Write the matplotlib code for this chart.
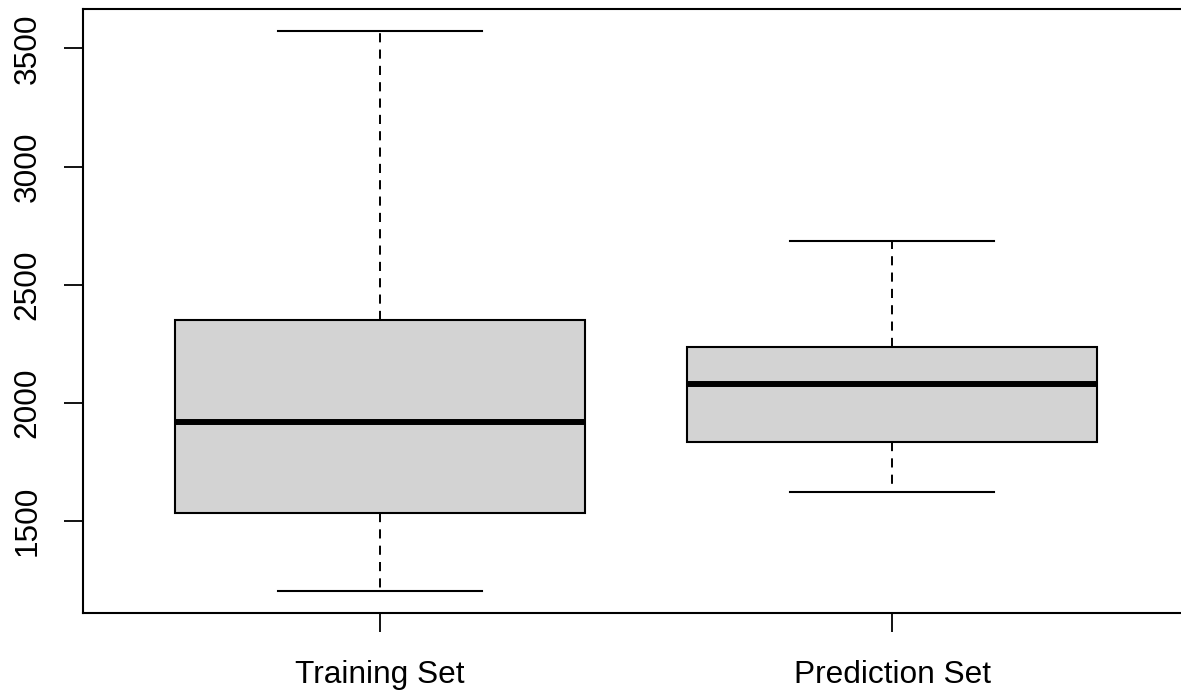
import matplotlib.pyplot as plt

plt.rcParams['font.family'] = ['Liberation Sans', 'DejaVu Sans']

# Five-number summaries for each set
labels = ['Training Set', 'Prediction Set']
whisker_low = [1205, 1624]
q1 = [1535, 1835]
median = [1920, 2080]
q3 = [2351, 2237]
whisker_high = [3572, 2685]
y_ticks = [1500, 2000, 2500, 3000, 3500]


def graficar_cajas():
    fig = plt.figure(figsize=(11.81, 6.96), dpi=100)
    ax = fig.add_axes([83 / 1181, 83 / 696, 1106 / 1181, 604 / 696])

    stats = []
    for i in range(len(labels)):
        stats.append({'label': labels[i], 'whislo': whisker_low[i], 'q1': q1[i],
                      'med': median[i], 'q3': q3[i], 'whishi': whisker_high[i],
                      'fliers': []})

    ax.bxp(stats, positions=[1, 2], widths=0.8, patch_artist=True, showfliers=False,
           boxprops=dict(facecolor='#d3d3d3', edgecolor='black', linewidth=1.5),
           medianprops=dict(color='black', linewidth=4.3, solid_capstyle='butt'),
           whiskerprops=dict(color='black', linewidth=1.4, linestyle=(0, (4.7, 3.7))),
           capprops=dict(color='black', linewidth=1.5), capwidths=0.4)

    ax.set_xlim(0.42, 2.58)
    ax.set_ylim(1110, 3667)
    ax.set_yticks(y_ticks)
    ax.set_yticklabels([str(v) for v in y_ticks], rotation=90, va='center')
    ax.set_xticks([1, 2])
    ax.set_xticklabels(labels)

    ax.tick_params(axis='both', labelsize=22.8, length=14, width=1.3, colors='black')
    ax.tick_params(axis='y', pad=15)
    ax.tick_params(axis='x', pad=20)
    for s in ax.spines.values():
        s.set_linewidth(1.5)

    fig.savefig('out.png', dpi=100)


if __name__ == '__main__':
    graficar_cajas()
